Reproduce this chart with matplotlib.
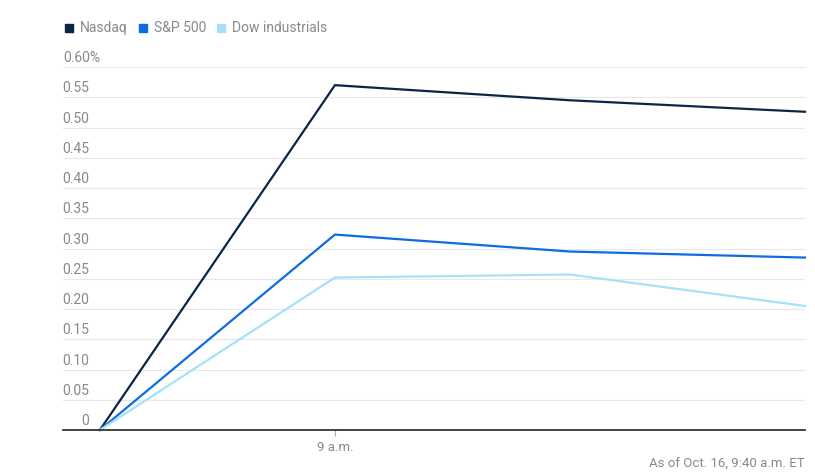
import matplotlib
matplotlib.use("Agg")
import matplotlib.pyplot as plt
import matplotlib.transforms as mtransforms

plt.rcParams["font.family"] = ["Roboto", "DejaVu Sans"]

# data
steps = [0, 1, 2, 3]
x_tick_pos = [1]
x_tick_labels = ["9 a.m."]
nasdaq = [0.0, 0.570, 0.545, 0.526]
sp500 = [0.0, 0.323, 0.295, 0.285]
dow = [0.0, 0.252, 0.257, 0.205]
series_names = ["Nasdaq", "S&P 500", "Dow industrials"]
y_ticks = [0, 0.05, 0.10, 0.15, 0.20, 0.25, 0.30, 0.35, 0.40, 0.45, 0.50, 0.55, 0.60]

colors = ["#0b2546", "#0e6ce0", "#a5e2f9"]
grey = "#858a8e"

W, H = 815, 472
fig = plt.figure(figsize=(W / 100, H / 100), dpi=100)
ax = fig.add_axes([63 / W, 42 / H, (805 - 63) / W, (430 - 67) / H])

for vals, name, c in zip([nasdaq, sp500, dow], series_names, colors):
    ax.plot(steps, vals, color=c, lw=1.6, label=name, solid_joinstyle="miter",
            clip_on=False, zorder=3)

ax.set_xlim(-0.157, 3)
ax.set_ylim(0, 0.6)

for s in ["top", "right", "left"]:
    ax.spines[s].set_visible(False)
ax.spines["bottom"].set_color("#222222")
ax.spines["bottom"].set_linewidth(1.2)
ax.spines["bottom"].set_zorder(4)

for y in y_ticks[1:]:
    ax.axhline(y, color="#e8e8e8", lw=0.9, zorder=1)

ax.set_yticks([])
ax.set_xticks(x_tick_pos)
ax.set_xticklabels(x_tick_labels, color=grey, fontsize=9.5)
ax.tick_params(axis="x", length=4, color="#aaaaaa", width=0.8, pad=4)

# y labels sitting just above their gridlines
off = mtransforms.offset_copy(ax.transData, fig=fig, x=0, y=3.5, units="points")
trans = mtransforms.blended_transform_factory(ax.transAxes, off)
for y in y_ticks:
    if y == y_ticks[-1]:
        ax.text(0, y, f"{y:.2f}%", transform=trans, ha="left", va="baseline",
                color=grey, fontsize=10)
    else:
        lab = "0" if y == 0 else f"{y:.2f}"
        ax.text(26 / (805 - 63), y, lab, transform=trans, ha="right",
                va="baseline", color=grey, fontsize=10)

# legend
leg_x = 65
for name, c in zip(series_names, colors):
    fig.patches.append(plt.Rectangle((leg_x / W, 1 - 32 / H), 8 / W, 8 / H,
                                     transform=fig.transFigure, color=c))
    t = fig.text((leg_x + 15) / W, 1 - 28 / H, name, color=grey,
                 fontsize=10, va="center", ha="left")
    fig.canvas.draw()
    bb = t.get_window_extent()
    leg_x = bb.x1 + 11

fig.text(805 / W, 1 - 464 / H, "As of Oct. 16, 9:40 a.m. ET", color=grey,
         fontsize=9.5, ha="right", va="center")

fig.savefig("out.png", dpi=100)
